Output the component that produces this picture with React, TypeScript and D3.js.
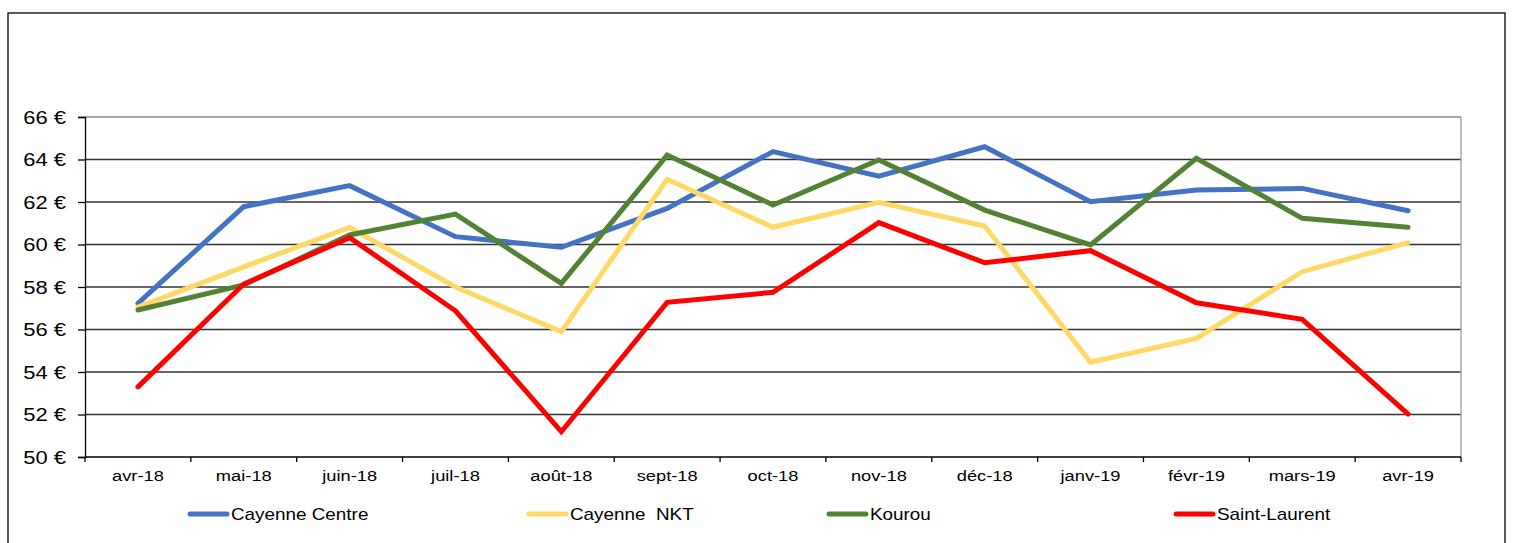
import * as React from "react";
import * as d3 from "d3";

const months = [
  "avr-18", "mai-18", "juin-18", "juil-18", "août-18", "sept-18", "oct-18",
  "nov-18", "déc-18", "janv-19", "févr-19", "mars-19", "avr-19",
];

const cayenneCentre = [57.23, 61.78, 62.77, 60.37, 59.87, 61.7, 64.37, 63.22, 64.6, 62.01, 62.56, 62.64, 61.59];
const cayenneNKT = [57.05, 58.95, 60.8, 58.0, 55.9, 63.07, 60.81, 61.98, 60.87, 54.46, 55.58, 58.72, 60.09];
const kourou = [56.92, 58.1, 60.45, 61.43, 58.17, 64.21, 61.86, 63.98, 61.62, 59.98, 64.06, 61.23, 60.81];
const saintLaurent = [53.3, 58.14, 60.32, 56.88, 51.19, 57.28, 57.75, 61.03, 59.14, 59.71, 57.26, 56.48, 52.02];

const seriesNames = ["Cayenne Centre", "Cayenne  NKT", "Kourou", "Saint-Laurent"];
const yTicks = [50, 52, 54, 56, 58, 60, 62, 64, 66];

function drawChart(svgEl: SVGSVGElement) {
  const svg = d3.select(svgEl);
  svg.selectAll("*").remove();

  const left = 85;
  const right = 1461;
  const top = 117;
  const bottom = 457;
  const font = "'Liberation Sans', Arial, sans-serif";
  const stretch = 1.22; // the original text looks horizontally stretched

  const series = [
    { name: seriesNames[0], values: cayenneCentre, color: "#4472C4" },
    { name: seriesNames[1], values: cayenneNKT, color: "#FFD966" },
    { name: seriesNames[2], values: kourou, color: "#548235" },
    { name: seriesNames[3], values: saintLaurent, color: "#FF0000" },
  ];

  const x = d3.scaleBand().domain(months).range([left, right]);
  const y = d3.scaleLinear().domain([50, 66]).range([bottom, top]);

  // outer frame
  svg
    .append("rect")
    .attr("x", 8)
    .attr("y", 13)
    .attr("width", 1497)
    .attr("height", 560)
    .attr("fill", "none")
    .attr("stroke", "#000")
    .attr("stroke-width", 1.3);

  // grid lines
  svg
    .append("g")
    .selectAll("line")
    .data(yTicks.slice(1))
    .enter()
    .append("line")
    .attr("x1", left)
    .attr("x2", right)
    .attr("y1", (d) => y(d))
    .attr("y2", (d) => y(d))
    .attr("stroke", (d) => (d === 66 ? "#8a8a8a" : "#333"))
    .attr("stroke-width", 1.3);

  // right border of plot
  svg
    .append("line")
    .attr("x1", right)
    .attr("x2", right)
    .attr("y1", top)
    .attr("y2", bottom)
    .attr("stroke", "#9a9a9a")
    .attr("stroke-width", 1.3);

  // y axis
  const yAxis = d3.axisLeft(y).tickValues(yTicks).tickSize(7).tickFormat(() => "");
  const gy = svg.append("g").attr("transform", `translate(${left},0)`).call(yAxis);
  gy.selectAll("path, line").attr("stroke", "#000").attr("stroke-width", 1.3);

  svg
    .append("g")
    .selectAll("text")
    .data(yTicks)
    .enter()
    .append("text")
    .attr("transform", (d) => `translate(66,${y(d) + 6.5}) scale(${stretch},1)`)
    .attr("text-anchor", "end")
    .attr("font-family", font)
    .attr("font-size", 18)
    .attr("fill", "#000")
    .text((d) => `${d} €`);

  // x axis
  const bounds = d3.range(months.length + 1).map((i) => left + i * x.bandwidth());
  const gx = svg.append("g");
  gx.append("line")
    .attr("x1", left)
    .attr("x2", right)
    .attr("y1", bottom)
    .attr("y2", bottom)
    .attr("stroke", "#000")
    .attr("stroke-width", 1.3);
  gx.selectAll(".tick")
    .data(bounds)
    .enter()
    .append("line")
    .attr("x1", (d) => d)
    .attr("x2", (d) => d)
    .attr("y1", bottom)
    .attr("y2", bottom + 5)
    .attr("stroke", "#000")
    .attr("stroke-width", 1.3);
  gx.selectAll("text")
    .data(months)
    .enter()
    .append("text")
    .attr("transform", (d) => `translate(${x(d)! + x.bandwidth() / 2},481) scale(${stretch},1)`)
    .attr("text-anchor", "middle")
    .attr("font-family", font)
    .attr("font-size", 15)
    .attr("fill", "#000")
    .text((d) => d);

  // lines
  const line = d3
    .line<number>()
    .x((_d, i) => x(months[i])! + x.bandwidth() / 2)
    .y((d) => y(d));

  svg
    .append("g")
    .selectAll("path")
    .data(series)
    .enter()
    .append("path")
    .attr("d", (d) => line(d.values))
    .attr("fill", "none")
    .attr("stroke", (d) => d.color)
    .attr("stroke-width", 5)
    .attr("stroke-linejoin", "miter")
    .attr("stroke-linecap", "round");

  // legend
  const legendX = [190, 529, 829, 1176];
  const legend = svg
    .append("g")
    .selectAll("g")
    .data(series)
    .enter()
    .append("g")
    .attr("transform", (_d, i) => `translate(${legendX[i]},514)`);
  legend
    .append("line")
    .attr("x1", 0)
    .attr("x2", 37)
    .attr("stroke", (d) => d.color)
    .attr("stroke-width", 5)
    .attr("stroke-linecap", "round");
  legend
    .append("text")
    .attr("transform", `translate(41,6) scale(1.18,1)`)
    .attr("font-family", font)
    .attr("font-size", 16)
    .attr("fill", "#000")
    .style("white-space", "pre")
    .text((d) => d.name);
}

export default function App() {
  const ref = React.useRef<SVGSVGElement>(null);
  React.useEffect(() => {
    if (ref.current) drawChart(ref.current);
  }, []);
  return (
    <svg
      ref={ref}
      width={1514}
      height={543}
      style={{ position: "absolute", left: 0, top: 0, background: "#fff" }}
    />
  );
}
